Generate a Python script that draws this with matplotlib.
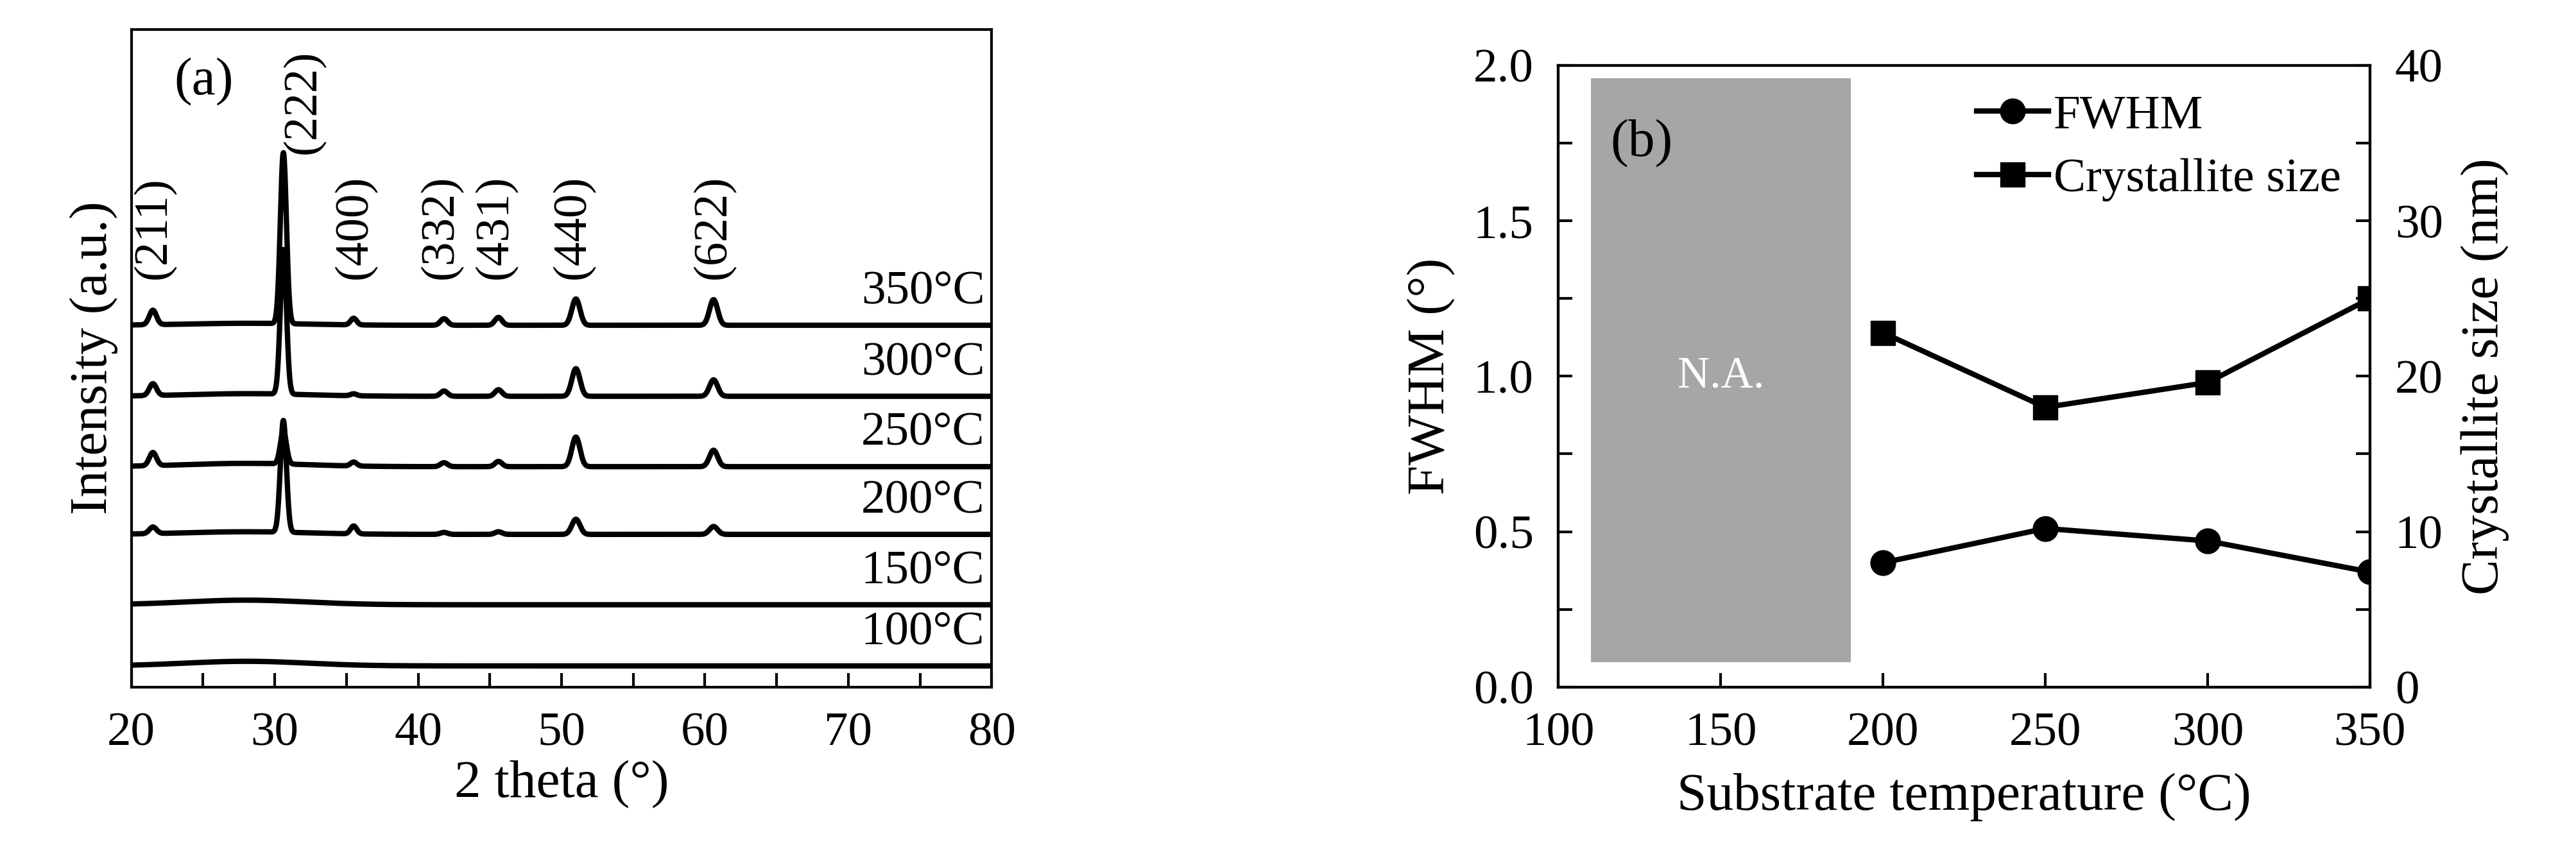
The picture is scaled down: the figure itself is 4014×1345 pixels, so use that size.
import numpy as np
import matplotlib
matplotlib.use("Agg")
import matplotlib.pyplot as plt
from matplotlib.ticker import MultipleLocator

plt.rcParams['font.family'] = ['Liberation Serif', 'DejaVu Serif']

# ---- Panel (a) data ----
temps_a = ["100°C", "150°C", "200°C", "250°C", "300°C", "350°C"]
baselines = [3.2, 12.5, 23.2, 33.5, 44.2, 55.0]
peak_pos = [21.5, 30.6, 35.5, 41.8, 45.6, 51.0, 60.6]
peak_width = [0.35, 0.3, 0.3, 0.35, 0.35, 0.4, 0.4]
peak_heights = [
    [0, 0, 0, 0, 0, 0, 0],
    [0, 0, 0, 0, 0, 0, 0],
    [1.0, 17.0, 1.2, 0.3, 0.4, 2.3, 1.2],
    [2.0, 5.0, 0.6, 0.6, 0.8, 4.5, 2.5],
    [1.8, 22.0, 0.3, 0.8, 1.0, 4.2, 2.5],
    [2.2, 26.0, 1.0, 1.0, 1.2, 4.0, 3.9],
]
hump_height = [0.7, 0.7, 0.4, 0.5, 0.4, 0.3]
hkl_labels = ["(211)", "(222)", "(400)", "(332)", "(431)", "(440)", "(622)"]
hkl_x = [21.6, 32.0, 35.6, 41.6, 45.4, 50.8, 60.6]
hkl_y = [62.0, 81.0, 62.0, 62.0, 62.0, 62.0, 62.0]

# ---- Panel (b) data ----
temps_b = [200, 250, 300, 350]
fwhm = [0.40, 0.51, 0.47, 0.37]
cryst = [22.8, 18.0, 19.6, 25.0]

FS_T = 54
FS_L = 60
fig = plt.figure(figsize=(40.14, 13.45), dpi=100)
ax = fig.add_axes([0.051, 0.204, 0.334, 0.762])
x = np.linspace(20, 80, 3000)
for i, t in enumerate(temps_a):
    y = np.full_like(x, baselines[i]) + hump_height[i] * np.exp(-((x - 28) / 6) ** 2)
    for p, w, h in zip(peak_pos, peak_width, peak_heights[i]):
        y = y + h * np.exp(-((x - p) / w) ** 2)
    ax.plot(x, y, color='black', lw=6)
    ax.text(79.5, baselines[i] + 1.8, t, ha='right', va='bottom', fontsize=FS_T)
for lab, lx, ly in zip(hkl_labels, hkl_x, hkl_y):
    ax.text(lx, ly, lab, rotation=90, ha='center', va='bottom', fontsize=FS_T)
ax.text(23, 92, "(a)", fontsize=FS_L, ha='left', va='center')
ax.set_xlim(20, 80)
ax.set_ylim(0, 100)
ax.set_yticks([])
ax.xaxis.set_major_locator(MultipleLocator(10))
ax.xaxis.set_minor_locator(MultipleLocator(5))
ax.tick_params(axis='x', which='both', direction='in', length=16, width=3, labelsize=FS_T, pad=28)
ax.set_xlabel("2 theta (°)", fontsize=FS_L, labelpad=6)
ax.set_ylabel("Intensity (a.u.)", fontsize=FS_L, labelpad=15)
for s in ax.spines.values():
    s.set_linewidth(3)

# ---- Panel (b) ----
bx = fig.add_axes([0.605, 0.204, 0.315, 0.72])
bx.axvspan(110, 190, ymin=0.04, ymax=0.98, color='#a6a6a6', lw=0)
bx.text(150, 1.0, "N.A.", color='white', fontsize=50, ha='center', va='center')
l1, = bx.plot(temps_b, fwhm, color='black', marker='o', ms=28, lw=6, label='FWHM')
bx.set_xlim(100, 350)
bx.set_ylim(0, 2.0)
bx.xaxis.set_major_locator(MultipleLocator(50))
bx.yaxis.set_major_locator(MultipleLocator(0.5))
bx.yaxis.set_minor_locator(MultipleLocator(0.25))
bx.yaxis.set_major_formatter(matplotlib.ticker.FormatStrFormatter('%.1f'))
bx.tick_params(which='both', direction='in', length=16, width=3, labelsize=FS_T, pad=28)
bx.set_xlabel("Substrate temperature (°C)", fontsize=FS_L, labelpad=20)
bx.set_ylabel("FWHM (°)", fontsize=FS_L, labelpad=20)
bx2 = bx.twinx()
l2, = bx2.plot(temps_b, cryst, color='black', marker='s', ms=28, lw=6, label='Crystallite size')
bx2.set_ylim(0, 40)
bx2.yaxis.set_major_locator(MultipleLocator(10))
bx2.yaxis.set_minor_locator(MultipleLocator(5))
bx2.tick_params(which='both', direction='in', length=16, width=3, labelsize=FS_T, pad=28)
bx2.set_ylabel("Crystallite size (nm)", fontsize=FS_L, labelpad=20)
for a in (bx, bx2):
    for s in a.spines.values():
        s.set_linewidth(3)
bx.text(116, 1.75, "(b)", fontsize=FS_L, ha='left', va='center')
leg = bx.legend([l1, l2], ['FWHM', 'Crystallite size'], loc='upper right', fontsize=FS_T,
                frameon=False, handlelength=1.5, handletextpad=0.1, borderaxespad=0.2,
                labelspacing=0.4)
fig.savefig("out.png", dpi=100)
